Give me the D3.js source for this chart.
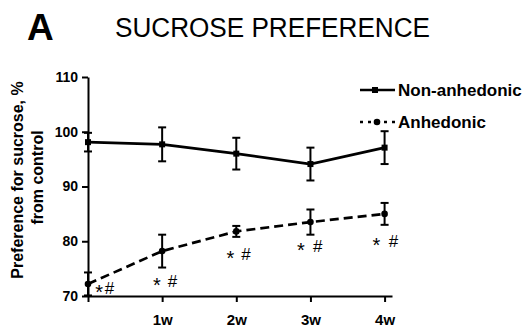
<!DOCTYPE html>
<html>
<head>
<meta charset="utf-8">
<script src="https://cdn.jsdelivr.net/npm/d3@7"></script>
<style>
  body { margin: 0; background: #fff; }
  svg text { font-family: "Liberation Sans", Arial, Helvetica, sans-serif; fill: #000; }
</style>
</head>
<body>
<div id="chart"></div>
<script>
// weeks after stress, 0 = baseline
const weeks = [0, 1, 2, 3, 4];
const weekLabels = ["", "1w", "2w", "3w", "4w"];
const yTicks = [70, 80, 90, 100, 110];

// Non-anhedonic group: mean and SEM
const nonMean = [98.1, 97.7, 96.0, 94.1, 97.1];
const nonErr = [1.7, 3.1, 2.9, 3.0, 3.0];

// Anhedonic group: mean and SEM
const anhMean = [72.2, 78.2, 81.8, 83.5, 85.0];
const anhErr = [2.1, 3.0, 1.0, 2.3, 2.0];

// significance marks ("*" and "#") under the anhedonic points
const starX = [0.15, 0.93, 1.92, 2.87, 3.89];
const hashX = [0.29, 1.14, 2.13, 3.10, 4.12];
const markY = [70.4, 71.6, 76.6, 78.1, 78.9];

const series = [
  { name: "Non-anhedonic", mean: nonMean, err: nonErr, dash: null, marker: "square" },
  { name: "Anhedonic", mean: anhMean, err: anhErr, dash: "9,5", marker: "circle" }
];

const width = 528, height = 328;
const svg = d3.select("#chart").append("svg")
  .attr("width", width)
  .attr("height", height);

const x = d3.scaleLinear().domain([0, 4.1]).range([88, 392]);
const y = d3.scaleLinear().domain([70, 110]).range([296, 77]);

// titles
svg.append("text")
  .attr("x", 27).attr("y", 40)
  .attr("font-size", 37).attr("font-weight", "bold")
  .text("A");

svg.append("text")
  .attr("x", 115).attr("y", 37)
  .attr("font-size", 27)
  .attr("textLength", 315)
  .attr("lengthAdjust", "spacingAndGlyphs")
  .text("SUCROSE PREFERENCE");

// y axis title
svg.append("text")
  .attr("transform", "translate(23.3,180) rotate(-90)")
  .attr("text-anchor", "middle")
  .attr("font-size", 16).attr("font-weight", "bold")
  .text("Preference for sucrose, %");
svg.append("text")
  .attr("transform", "translate(43.3,177.5) rotate(-90)")
  .attr("text-anchor", "middle")
  .attr("font-size", 16).attr("font-weight", "bold")
  .text("from control");

// axes
const yAxis = svg.append("g")
  .attr("transform", `translate(${x(0)},0)`)
  .call(d3.axisLeft(y).tickValues(yTicks).tickSize(6).tickSizeOuter(0).tickPadding(4));

const xAxis = svg.append("g")
  .attr("transform", `translate(0,${y(70)})`)
  .call(d3.axisBottom(x).tickValues(weeks).tickFormat((d, i) => weekLabels[i])
    .tickSize(6).tickSizeOuter(0).tickPadding(12));

[yAxis, xAxis].forEach(g => {
  g.select(".domain").attr("stroke", "#000").attr("stroke-width", 2);
  g.selectAll(".tick line").attr("stroke", "#000").attr("stroke-width", 2);
  g.selectAll(".tick text")
    .attr("font-family", "Liberation Sans, Arial, sans-serif")
    .attr("font-weight", "bold")
    .attr("fill", "#000");
});
yAxis.selectAll(".tick text").attr("font-size", 14);
xAxis.selectAll(".tick text").attr("font-size", 15);

// lines, error bars, markers
const line = d3.line().x((d, i) => x(weeks[i])).y(d => y(d));

series.forEach(s => {
  const g = svg.append("g");

  g.append("path")
    .datum(s.mean)
    .attr("fill", "none")
    .attr("stroke", "#000")
    .attr("stroke-width", 2.7)
    .attr("stroke-dasharray", s.dash)
    .attr("d", line);

  const eb = g.selectAll(".eb").data(s.mean).enter().append("g");
  eb.append("line")
    .attr("x1", (d, i) => x(weeks[i])).attr("x2", (d, i) => x(weeks[i]))
    .attr("y1", (d, i) => y(d - s.err[i])).attr("y2", (d, i) => y(d + s.err[i]))
    .attr("stroke", "#000").attr("stroke-width", 2);
  [-1, 1].forEach(sign => {
    eb.append("line")
      .attr("x1", (d, i) => x(weeks[i]) - 4).attr("x2", (d, i) => x(weeks[i]) + 4)
      .attr("y1", (d, i) => y(d + sign * s.err[i]))
      .attr("y2", (d, i) => y(d + sign * s.err[i]))
      .attr("stroke", "#000").attr("stroke-width", 2);
  });

  if (s.marker == "square") {
    eb.append("rect")
      .attr("x", (d, i) => x(weeks[i]) - 3).attr("y", d => y(d) - 3)
      .attr("width", 6).attr("height", 6).attr("fill", "#000");
  } else {
    eb.append("circle")
      .attr("cx", (d, i) => x(weeks[i])).attr("cy", d => y(d))
      .attr("r", 3.3).attr("fill", "#000");
  }
});

// significance marks
svg.selectAll(".star").data(markY).enter().append("text")
  .attr("x", (d, i) => x(starX[i])).attr("y", d => y(d) + 5)
  .attr("text-anchor", "middle")
  .attr("font-size", 20)
  .text("*");
svg.selectAll(".hash").data(markY).enter().append("text")
  .attr("x", (d, i) => x(hashX[i])).attr("y", d => y(d))
  .attr("text-anchor", "middle")
  .attr("font-size", 17)
  .text("#");

// legend
const legend = svg.append("g");
series.forEach((s, i) => {
  const ly = 90 + i * 32;
  legend.append("line")
    .attr("x1", 360).attr("x2", 395)
    .attr("y1", ly).attr("y2", ly)
    .attr("stroke", "#000").attr("stroke-width", 2.7)
    .attr("stroke-dasharray", s.dash ? "3,5" : null);
  if (s.marker == "square") {
    legend.append("rect").attr("x", 372).attr("y", ly - 3)
      .attr("width", 6).attr("height", 6).attr("fill", "#000");
  } else {
    legend.append("circle").attr("cx", 377).attr("cy", ly).attr("r", 3.3).attr("fill", "#000");
  }
  legend.append("text")
    .attr("x", 398).attr("y", ly + 6)
    .attr("font-size", 17).attr("font-weight", "bold")
    .text(s.name);
});
</script>
</body>
</html>
